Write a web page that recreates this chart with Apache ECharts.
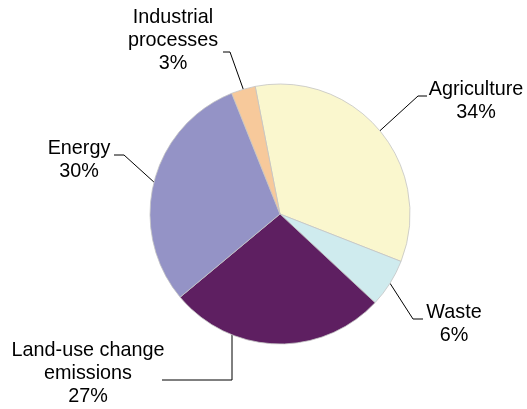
<!DOCTYPE html>
<html>
<head>
<meta charset="utf-8">
<script src="https://cdn.jsdelivr.net/npm/echarts@6/dist/echarts.min.js"></script>
<style>html,body{margin:0;padding:0;background:#fff}#c{width:527px;height:409px}</style>
</head>
<body>
<div id="c"></div>
<script>
var categories = ['Agriculture', 'Waste', 'Land-use change\nemissions', 'Energy', 'Industrial\nprocesses'];
var values = [34, 6, 27, 30, 3];
var colors = ['#FAF7CE', '#CFEBEE', '#5E1F61', '#9493C6', '#F7C99B'];

// label placement (text block centre) and leader-line elbows
var labelPos = [
  {x: 476, y: 101, elbow: [418, 96], end: [427, 96]},
  {x: 454, y: 324, elbow: [413, 319], end: [423, 319]},
  {x: 88, y: 374, start: [232, 332], elbow: [232, 380], end: [162, 380]},
  {x: 79, y: 160, elbow: [124, 155], end: [114, 155]},
  {x: 173, y: 41, elbow: [230, 52], end: [223, 52]}
];

var chart = echarts.init(document.getElementById('c'));
chart.setOption({
  animation: false,
  series: [{
    type: 'pie',
    center: [280, 214],
    radius: 130,
    startAngle: 101,
    clockwise: true,
    data: categories.map(function (n, i) {
      return {name: n, value: values[i], itemStyle: {color: colors[i]}};
    }),
    itemStyle: {borderColor: '#c4c4c4', borderWidth: 0.8},
    label: {
      show: true,
      position: 'outside',
      formatter: '{b}\n{c}%',
      fontFamily: 'Liberation Sans, Arial, sans-serif',
      fontSize: 19.8,
      lineHeight: 23,
      color: '#000',
      align: 'center',
      overflow: 'none',
      width: 200
    },
    labelLine: {show: true, lineStyle: {color: '#000', width: 1}},
    emphasis: {disabled: true},
    labelLayout: function (params) {
      var p = labelPos[params.dataIndex];
      var s = p.start || (params.labelLinePoints ? params.labelLinePoints[0] : p.elbow);
      return {
        x: p.x, y: p.y, align: 'center', verticalAlign: 'middle',
        labelLinePoints: [s, p.elbow, p.end]
      };
    }
  }]
});
</script>
</body>
</html>
